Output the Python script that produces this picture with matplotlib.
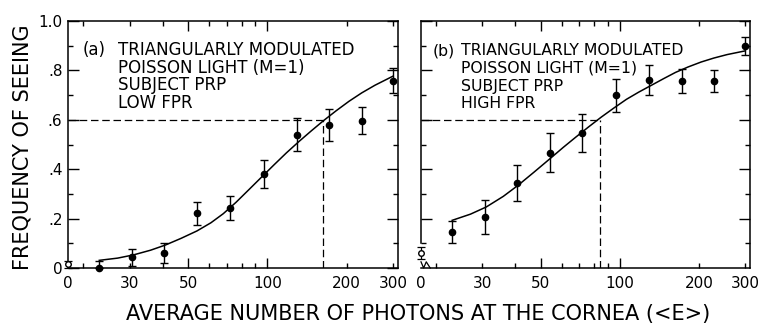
import matplotlib
matplotlib.use('Agg')
import matplotlib.pyplot as plt
from matplotlib.ticker import FixedLocator, FixedFormatter, NullFormatter
from matplotlib.lines import Line2D

# ---------------- data ----------------
photons = [23, 30.6, 40.6, 54, 72, 97, 129, 172, 228, 300]

seeing_a = [0.0, 0.044, 0.062, 0.222, 0.243, 0.380, 0.539, 0.579, 0.597, 0.758]
err_a_low = [0.0, 0.034, 0.040, 0.046, 0.047, 0.056, 0.067, 0.066, 0.055, 0.050]
err_a_up = [0.030, 0.034, 0.040, 0.046, 0.047, 0.056, 0.067, 0.066, 0.055, 0.050]

seeing_b = [0.146, 0.206, 0.344, 0.467, 0.547, 0.699, 0.760, 0.757, 0.757, 0.899]
err_b = [0.046, 0.068, 0.071, 0.078, 0.077, 0.067, 0.061, 0.048, 0.043, 0.035]

# fitted curves
curve_x = [23, 27, 31, 36, 41, 47, 54, 61, 68, 76, 85, 95, 106, 118, 132, 147, 163,
           182, 204, 228, 256, 300]
curve_a_y = [0.031, 0.040, 0.053, 0.072, 0.093, 0.120, 0.150, 0.183, 0.220, 0.266, 0.317,
             0.368, 0.418, 0.466, 0.513, 0.556, 0.596, 0.636, 0.675, 0.709, 0.740, 0.777]
curve_b_y = [0.193, 0.218, 0.247, 0.290, 0.335, 0.387, 0.441, 0.489, 0.530, 0.571, 0.611,
             0.648, 0.683, 0.712, 0.740, 0.767, 0.792, 0.814, 0.834, 0.850, 0.864, 0.879]

fpr_a, fpr_a_err = 0.015, 0.015
fpr_b, fpr_b_err = 0.062, 0.024

criterion = 0.6
thresh_a = 163
thresh_b = 84

x_ticks = [17.5, 30, 50, 100, 200, 300]
x_ticklabels = ['0', '30', '50', '100', '200', '300']
x_minor = [20, 40, 60, 70, 80, 90]
y_ticks = [0, 0.2, 0.4, 0.6, 0.8, 1.0]
y_ticklabels = ['0', '.2', '.4', '.6', '.8', '1.0']
y_minor = [0.1, 0.3, 0.5, 0.7, 0.9]

label_a = ['TRIANGULARLY MODULATED', 'POISSON LIGHT (M=1)', 'SUBJECT PRP', 'LOW FPR']
label_b = ['TRIANGULARLY MODULATED', 'POISSON LIGHT (M=1)', 'SUBJECT PRP', 'HIGH FPR']

# ---------------- figure ----------------
plt.rcParams['font.family'] = ['DejaVu Sans']
fig = plt.figure(figsize=(7.62, 3.35), dpi=100)
H = 335.0
W = 762.0
ax_a = fig.add_axes([68 / W, 1 - 268 / H, 330 / W, 247 / H])
ax_b = fig.add_axes([421 / W, 1 - 268 / H, 329 / W, 247 / H])

XMIN, XMAX = 17.5, 313
LW = 1.1


def style(ax, show_ylabels, yt, ymn):
    ax.set_xscale('log')
    ax.set_xlim(XMIN, XMAX)
    ax.set_ylim(0, 1.0)
    for s in ax.spines.values():
        s.set_linewidth(1.1)
    ax.xaxis.set_major_locator(FixedLocator(x_ticks))
    ax.xaxis.set_major_formatter(FixedFormatter(x_ticklabels))
    ax.xaxis.set_minor_locator(FixedLocator(x_minor))
    ax.xaxis.set_minor_formatter(NullFormatter())
    ax.yaxis.set_major_locator(FixedLocator(yt))
    ax.yaxis.set_minor_locator(FixedLocator(ymn))
    if show_ylabels:
        ax.yaxis.set_major_formatter(FixedFormatter(y_ticklabels))
    else:
        ax.yaxis.set_major_formatter(NullFormatter())
    ax.tick_params(which='both', direction='in', top=True, right=True, width=1.0,
                   labelsize=11, colors='black')
    ax.tick_params(axis='x', which='major', length=3.6, pad=6)
    ax.tick_params(axis='x', which='minor', length=3.6)
    ax.tick_params(axis='y', which='major', length=8, pad=4)
    ax.tick_params(axis='y', which='minor', length=3.6)
    # longer marks at 50 and 100, none at the "0" break
    for t, v in zip(ax.xaxis.get_major_ticks(), x_ticks):
        if v in (50, 100):
            t.tick1line.set_markersize(7)
            t.tick2line.set_markersize(7)
        if v == XMIN:
            t.tick1line.set_markersize(0)
            t.tick2line.set_markersize(0)


style(ax_a, True, y_ticks, y_minor)
style(ax_b, False, y_ticks[1:], y_minor)

TXT_A = 12
TXT_B = 11.3

# ---- panel a ----
ax_a.errorbar(photons, seeing_a, yerr=[err_a_low, err_a_up], fmt='o', color='black',
              ms=4.5, elinewidth=1.0, capsize=3, capthick=1.0, clip_on=False, zorder=5)
ax_a.plot(curve_x, curve_a_y, color='black', lw=LW)
ax_a.plot([XMIN, thresh_a], [criterion, criterion], color='black', lw=0.9, dashes=(6, 3))
ax_a.plot([thresh_a, thresh_a], [0, criterion], color='black', lw=0.9, dashes=(6, 3))
ax_a.errorbar([XMIN], [fpr_a], yerr=[fpr_a_err], fmt='o', mfc='white', mec='black',
              color='black', ms=4, elinewidth=0.9, capsize=3, capthick=0.9,
              clip_on=False, zorder=6)
ax_a.text(0.045, 0.883, '(a)', transform=ax_a.transAxes, fontsize=TXT_A, va='center', ha='left')
for i, ln in enumerate(label_a):
    ax_a.text(0.152, 0.883 - i * 0.072, ln, transform=ax_a.transAxes, fontsize=TXT_A,
              va='center', ha='left')

# ---- panel b ----
ax_b.spines['left'].set_bounds(0.1, 1.0)
ax_b.errorbar(photons, seeing_b, yerr=err_b, fmt='o', color='black',
              ms=4.5, elinewidth=1.0, capsize=3, capthick=1.0, clip_on=False, zorder=5)
ax_b.plot(curve_x, curve_b_y, color='black', lw=LW)
ax_b.plot([XMIN, thresh_b], [criterion, criterion], color='black', lw=0.9, dashes=(6, 3))
ax_b.plot([thresh_b, thresh_b], [0, criterion], color='black', lw=0.9, dashes=(6, 3))
ax_b.errorbar([XMIN], [fpr_b], yerr=[fpr_b_err], fmt='o', mfc='white', mec='black',
              color='black', ms=4, elinewidth=0.9, capsize=3, capthick=0.9,
              clip_on=False, zorder=6)
# small axis-break mark at lower left
ax_b.add_line(Line2D([0.0, 0.008, 0.016, 0.028], [0.025, 0.0, 0.025, 0.0],
                     transform=ax_b.transAxes, color='black', lw=0.9, clip_on=False))
ax_b.text(0.036, 0.88, '(b)', transform=ax_b.transAxes, fontsize=TXT_B, va='center', ha='left')
for i, ln in enumerate(label_b):
    ax_b.text(0.122, 0.88 - i * 0.072, ln, transform=ax_b.transAxes, fontsize=TXT_B,
              va='center', ha='left')

# ---- axis titles ----
fig.text(23 / W, 1 - 147 / H, 'FREQUENCY OF SEEING', rotation=90, ha='center', va='center',
         fontsize=15)
fig.text(418 / W, 1 - 314 / H, 'AVERAGE NUMBER OF PHOTONS AT THE CORNEA (<E>)',
         ha='center', va='center', fontsize=15)

fig.savefig('out.png', dpi=100)
